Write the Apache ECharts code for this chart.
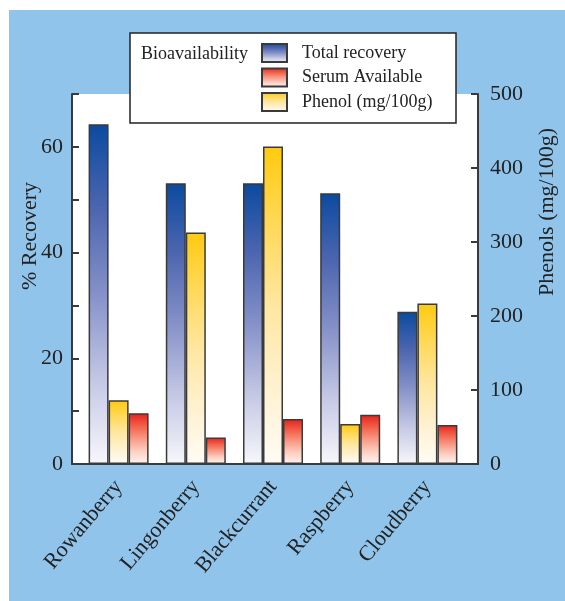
<!DOCTYPE html>
<html>
<head>
<meta charset="utf-8">
<script src="https://cdn.jsdelivr.net/npm/echarts@6/dist/echarts.min.js"></script>
<style>
html,body{margin:0;padding:0;background:#fff;}
#chart{width:565px;height:601px;}
</style>
</head>
<body>
<div id="chart"></div>
<script>
const categories = ['Rowanberry', 'Lingonberry', 'Blackcurrant', 'Raspberry', 'Cloudberry'];
const totalRecovery = [64.3, 53.1, 53.1, 51.2, 28.8];
const serumAvailable = [9.6, 5.0, 8.5, 9.3, 7.4];
const phenol = [86, 313, 429, 54, 217];
const leftTicks = [0, 20, 40, 60];
const rightTicks = [0, 100, 200, 300, 400, 500];

const FONT = 'Liberation Serif';
const TXT = '#222';
const AX = '#3a3a3a';

function grad(stops) {
  return new echarts.graphic.LinearGradient(0, 0, 0, 1,
    stops.map((c, i) => ({offset: i / (stops.length - 1), color: c})));
}
const blueGrad = grad(['#0b4a9f', '#4d66b0', '#8591c8', '#c3c7e4', '#f7f7fc']);
const yellowGrad = grad(['#ffca0f', '#ffd95a', '#ffe6a0', '#fff1cf', '#fffcf5']);
const redGrad = grad(['#e7211b', '#f2604a', '#f89a86', '#fccfc2', '#fff4f0']);

const chart = echarts.init(document.getElementById('chart'), null, {renderer: 'canvas'});

const option = {
  animation: false,
  backgroundColor: 'transparent',
  graphic: [
    {type: 'rect', z: -10, shape: {x: 9, y: 10, width: 556, height: 591}, style: {fill: '#90c4eb'}},
    {type: 'rect', z: 3, shape: {x: 130, y: 33, width: 326, height: 90}, style: {fill: '#fff', stroke: '#222', lineWidth: 1.5}},
    {type: 'text', z: 4, x: 141, y: 54, style: {text: 'Bioavailability', font: '18px "Liberation Serif"', fill: TXT, textVerticalAlign: 'middle'}},
    {type: 'text', z: 4, x: 30, y: 236, rotation: Math.PI / 2,
      style: {text: '% Recovery', font: '22px "Liberation Serif"', fill: TXT, textAlign: 'center', textVerticalAlign: 'middle'}},
    {type: 'text', z: 4, x: 547, y: 212, rotation: Math.PI / 2,
      style: {text: 'Phenols (mg/100g)', font: '22px "Liberation Serif"', fill: TXT, textAlign: 'center', textVerticalAlign: 'middle'}}
  ],
  legend: {
    z: 6,
    orient: 'vertical',
    left: 261,
    top: 43,
    padding: 0,
    icon: 'rect',
    itemWidth: 25,
    itemHeight: 18,
    itemGap: 4.5,
    data: ['Total recovery', 'Serum Available', 'Phenol (mg/100g)'],
    textStyle: {fontFamily: FONT, fontSize: 18, color: TXT, padding: [5, 0, 0, 10]}
  },
  grid: [
    {left: 72, right: 87, top: 94, bottom: 137, show: true, backgroundColor: '#fff', borderWidth: 0},
    {left: 80, right: 99, top: 94, bottom: 137}
  ],
  xAxis: [
    {gridIndex: 0, type: 'value', min: 0, max: 1,
      axisLine: {show: true, onZero: false, lineStyle: {color: AX, width: 2}},
      axisTick: {show: false}, axisLabel: {show: false}, splitLine: {show: false}},
    {gridIndex: 1, type: 'category', data: categories,
      axisLine: {show: false}, axisTick: {show: false},
      axisLabel: {rotate: 50, margin: 19, fontFamily: FONT, fontSize: 22, color: TXT}}
  ],
  yAxis: [
    {gridIndex: 0, type: 'value', show: false},
    {gridIndex: 1, type: 'value', position: 'left', offset: 8, min: 0, max: 70, interval: 10,
      axisLine: {show: true, lineStyle: {color: AX, width: 2}},
      axisTick: {show: true, inside: true, length: 7, lineStyle: {color: AX, width: 2}},
      axisLabel: {margin: 9, fontFamily: FONT, fontSize: 22, color: TXT, padding: [7, 0, 0, 0],
        formatter: v => leftTicks.includes(v) ? String(v) : ''},
      splitLine: {show: false}},
    {gridIndex: 1, type: 'value', position: 'right', offset: 12, min: 0, max: 500, interval: 100,
      axisLine: {show: true, lineStyle: {color: AX, width: 2}},
      axisTick: {show: true, inside: true, length: 7, lineStyle: {color: AX, width: 2}},
      axisLabel: {margin: 12, fontFamily: FONT, fontSize: 22, color: TXT, padding: [7, 0, 0, 0],
        formatter: v => rightTicks.includes(v) ? String(v) : ''},
      splitLine: {show: false}}
  ],
  series: [
    {name: 'Total recovery', type: 'bar', xAxisIndex: 1, yAxisIndex: 1, data: totalRecovery,
      barWidth: 20, barGap: '0%',
      itemStyle: {color: blueGrad, borderColor: AX, borderWidth: 1.5}},
    {name: 'Phenol (mg/100g)', type: 'bar', xAxisIndex: 1, yAxisIndex: 2, data: phenol,
      barWidth: 20, barGap: '0%',
      itemStyle: {color: yellowGrad, borderColor: AX, borderWidth: 1.5}},
    {name: 'Serum Available', type: 'bar', xAxisIndex: 1, yAxisIndex: 1, data: serumAvailable,
      barWidth: 20, barGap: '0%',
      itemStyle: {color: redGrad, borderColor: AX, borderWidth: 1.5}}
  ]
};
chart.setOption(option);
</script>
</body>
</html>
